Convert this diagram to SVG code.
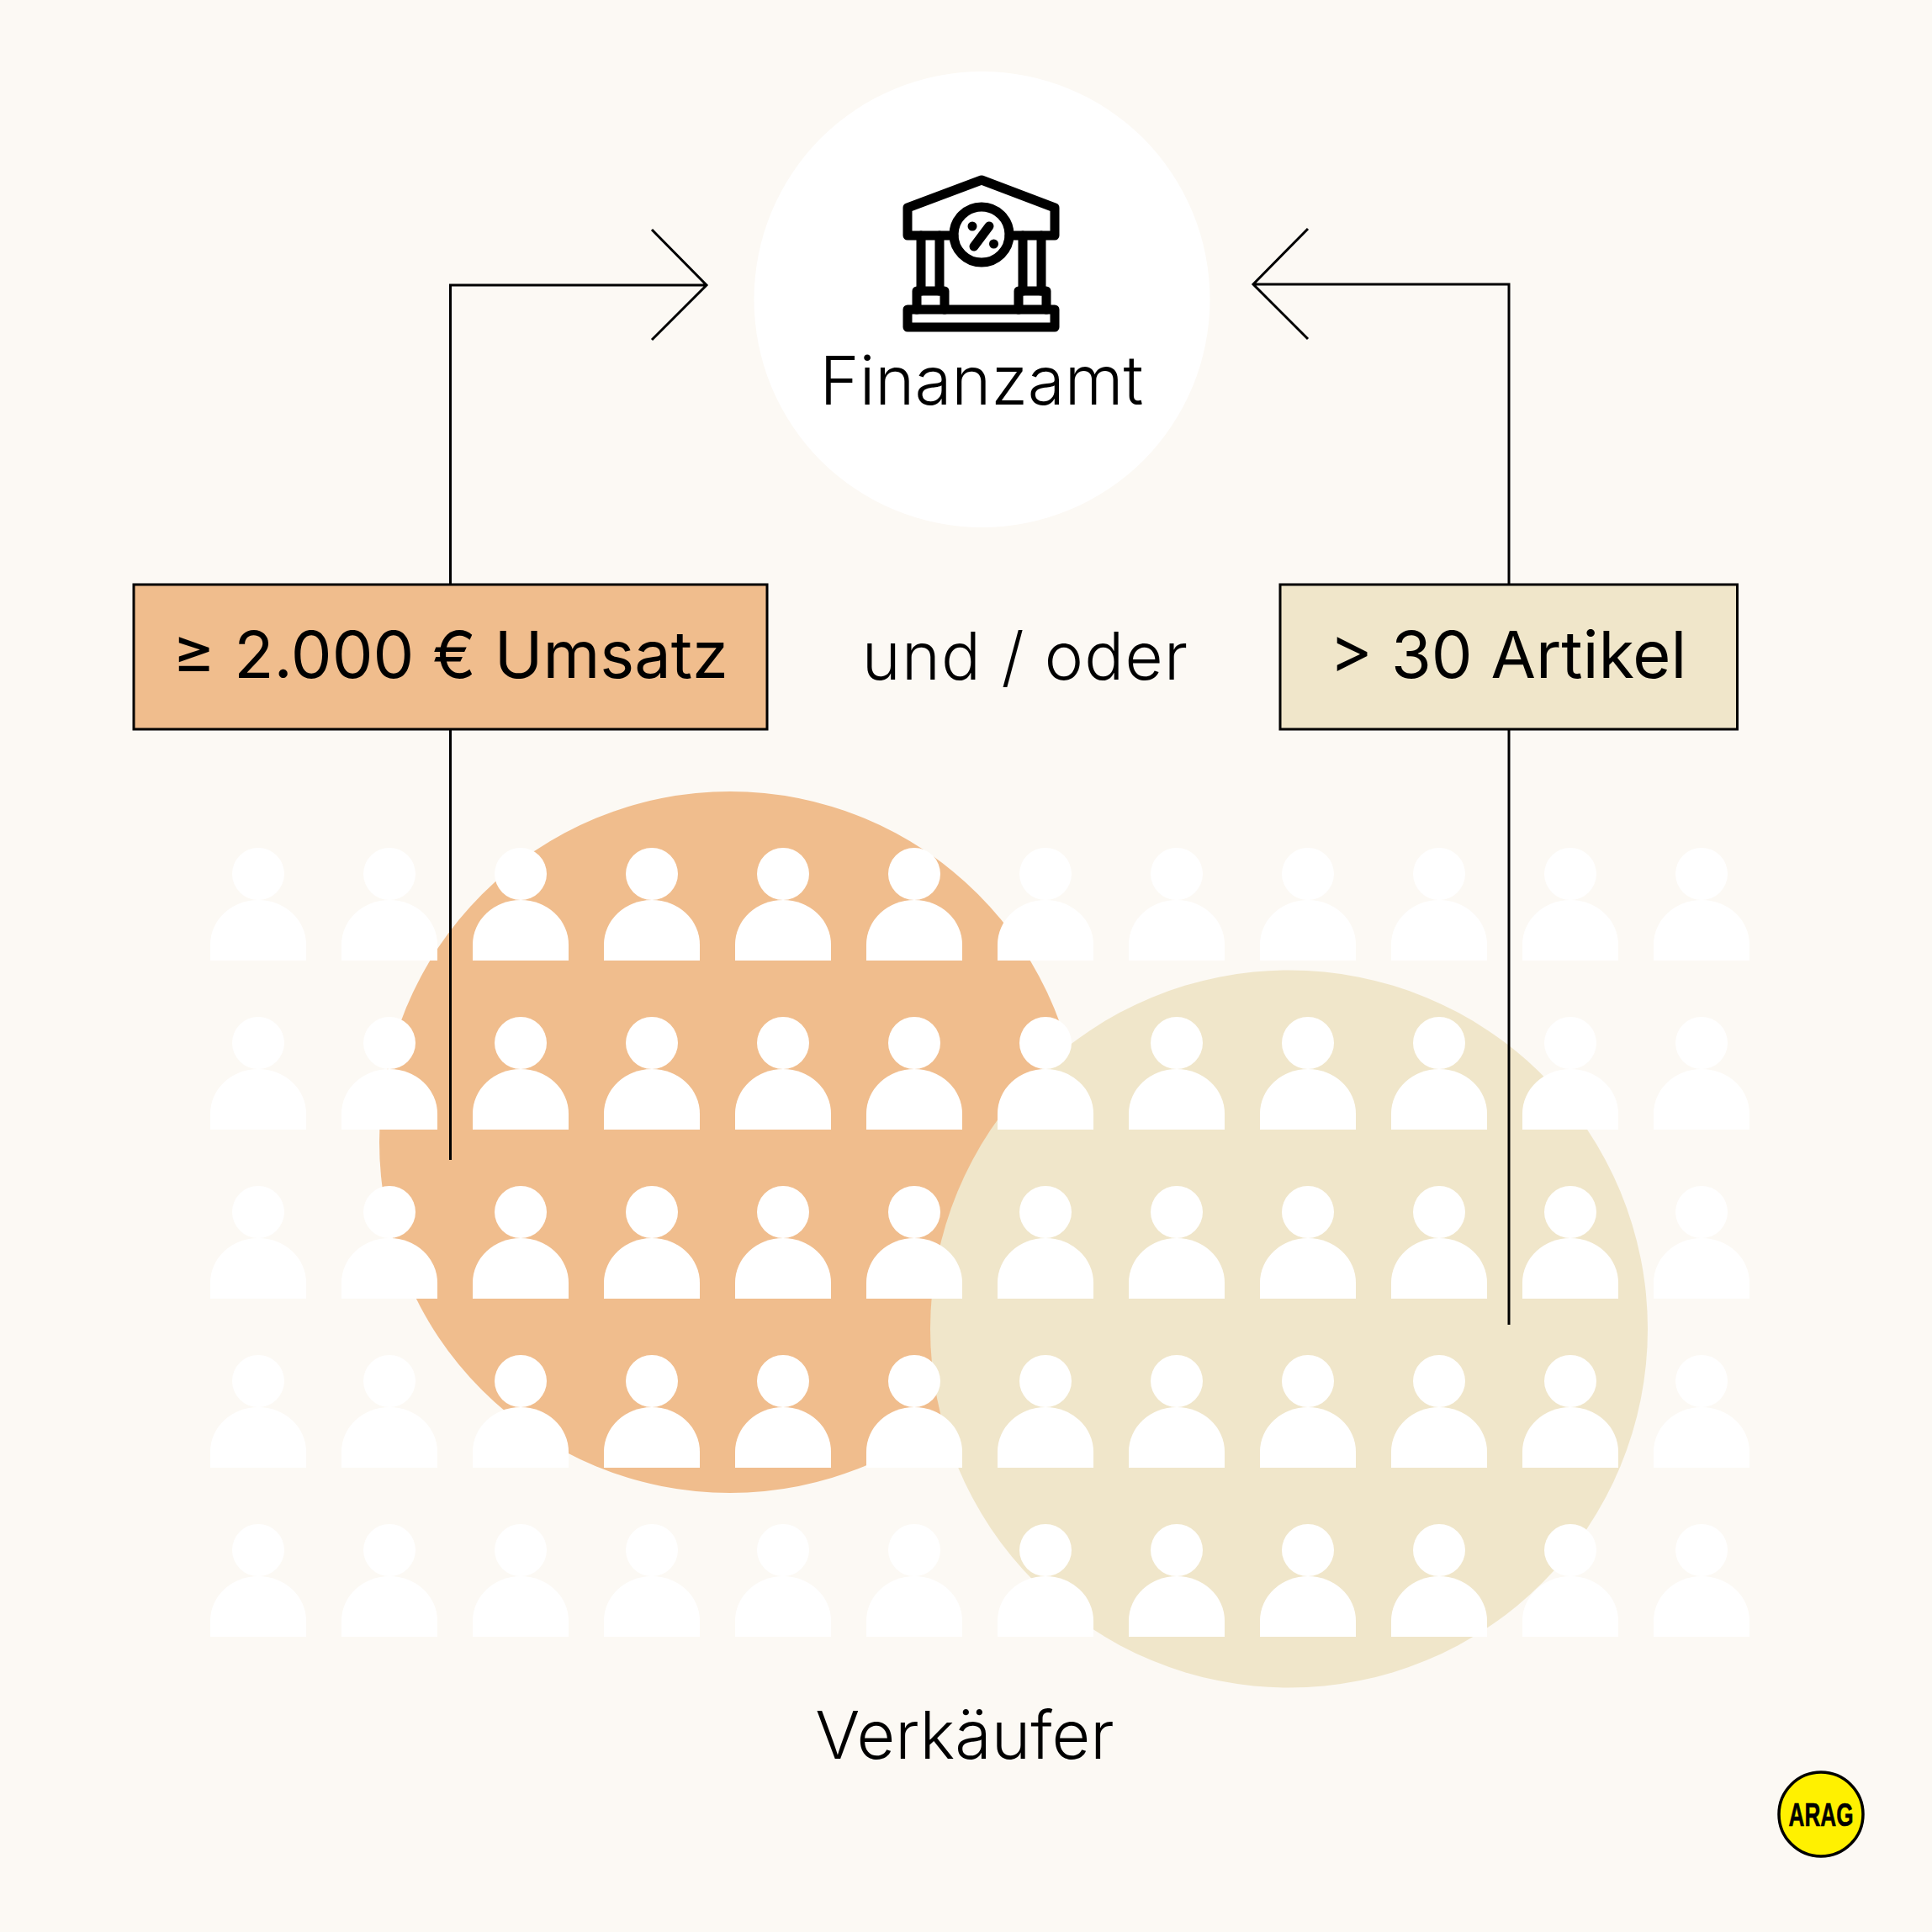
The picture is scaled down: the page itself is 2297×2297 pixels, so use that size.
<svg xmlns="http://www.w3.org/2000/svg" xmlns:xlink="http://www.w3.org/1999/xlink" width="2297" height="2297" viewBox="0 0 2297 2297">
<style>
.t{font-family:"Inter","Liberation Sans",sans-serif;fill:#000}
.ln{fill:none;stroke:#000;stroke-width:3}
.ic{fill:none;stroke:#000;stroke-width:11;stroke-linejoin:round;stroke-linecap:round}
.p{fill:#fff}
</style>
<defs>
<g id="person"><circle cx="0" cy="0" r="31"/><path d="M-57 103V84A57 53 0 0 1 57 84V103Z"/></g>
</defs>
<rect id="bg" width="2297" height="2297" fill="#fcf9f4"/>
<circle id="circle-umsatz" cx="868" cy="1358" r="417" fill="#f0bd8d"/>
<circle id="circle-artikel" cx="1532.500" cy="1580" r="426.500" fill="#f0e6ca"/>
<g id="people" class="p">
<use xlink:href="#person" x="307" y="1039"/><use xlink:href="#person" x="463" y="1039"/><use xlink:href="#person" x="619" y="1039"/><use xlink:href="#person" x="775" y="1039"/><use xlink:href="#person" x="931" y="1039"/><use xlink:href="#person" x="1087" y="1039"/><use xlink:href="#person" x="1243" y="1039"/><use xlink:href="#person" x="1399" y="1039"/><use xlink:href="#person" x="1555" y="1039"/><use xlink:href="#person" x="1711" y="1039"/><use xlink:href="#person" x="1867" y="1039"/><use xlink:href="#person" x="2023" y="1039"/>
<use xlink:href="#person" x="307" y="1240"/><use xlink:href="#person" x="463" y="1240"/><use xlink:href="#person" x="619" y="1240"/><use xlink:href="#person" x="775" y="1240"/><use xlink:href="#person" x="931" y="1240"/><use xlink:href="#person" x="1087" y="1240"/><use xlink:href="#person" x="1243" y="1240"/><use xlink:href="#person" x="1399" y="1240"/><use xlink:href="#person" x="1555" y="1240"/><use xlink:href="#person" x="1711" y="1240"/><use xlink:href="#person" x="1867" y="1240"/><use xlink:href="#person" x="2023" y="1240"/>
<use xlink:href="#person" x="307" y="1441"/><use xlink:href="#person" x="463" y="1441"/><use xlink:href="#person" x="619" y="1441"/><use xlink:href="#person" x="775" y="1441"/><use xlink:href="#person" x="931" y="1441"/><use xlink:href="#person" x="1087" y="1441"/><use xlink:href="#person" x="1243" y="1441"/><use xlink:href="#person" x="1399" y="1441"/><use xlink:href="#person" x="1555" y="1441"/><use xlink:href="#person" x="1711" y="1441"/><use xlink:href="#person" x="1867" y="1441"/><use xlink:href="#person" x="2023" y="1441"/>
<use xlink:href="#person" x="307" y="1642"/><use xlink:href="#person" x="463" y="1642"/><use xlink:href="#person" x="619" y="1642"/><use xlink:href="#person" x="775" y="1642"/><use xlink:href="#person" x="931" y="1642"/><use xlink:href="#person" x="1087" y="1642"/><use xlink:href="#person" x="1243" y="1642"/><use xlink:href="#person" x="1399" y="1642"/><use xlink:href="#person" x="1555" y="1642"/><use xlink:href="#person" x="1711" y="1642"/><use xlink:href="#person" x="1867" y="1642"/><use xlink:href="#person" x="2023" y="1642"/>
<use xlink:href="#person" x="307" y="1843"/><use xlink:href="#person" x="463" y="1843"/><use xlink:href="#person" x="619" y="1843"/><use xlink:href="#person" x="775" y="1843"/><use xlink:href="#person" x="931" y="1843"/><use xlink:href="#person" x="1087" y="1843"/><use xlink:href="#person" x="1243" y="1843"/><use xlink:href="#person" x="1399" y="1843"/><use xlink:href="#person" x="1555" y="1843"/><use xlink:href="#person" x="1711" y="1843"/><use xlink:href="#person" x="1867" y="1843"/><use xlink:href="#person" x="2023" y="1843"/>
</g>
<g id="connectors" class="ln">
<path d="M535.500 694V339H840M775 273L840 339L775 404"/>
<path d="M535.500 868V1379"/>
<path d="M1794 694V338H1490M1555 272L1490 338L1555 403"/>
<path d="M1794 868V1575"/>
</g>
<g id="finanzamt">
<circle cx="1167.500" cy="356" r="271" fill="#fff"/>
<g class="ic">
<path d="M1134 280H1079V247L1167 214L1254 247V280H1200"/>
<circle cx="1167" cy="279" r="33"/>
<path d="M1095 280V346M1117 280V346M1216 280V346M1238 280V346"/>
<path d="M1090 368V346H1123V368M1211 368V346H1244V368"/>
<rect x="1079" y="368" width="175" height="21"/>
<path d="M1158 293L1176 269"/>
</g>
<circle cx="1156" cy="269" r="5.500"/><circle cx="1181.500" cy="290" r="5.500"/>
<text class="t" x="1167" y="481" text-anchor="middle" font-size="80" font-weight="300">Finanzamt</text>
</g>
<g id="box-umsatz">
<rect x="159" y="695" width="753" height="172" fill="#f0bd8d" stroke="#000" stroke-width="3"/>
<text class="t" x="535.500" y="806" text-anchor="middle" font-size="77.500" font-weight="400">≥ 2.000 € Umsatz</text>
</g>
<text id="und-oder" class="t" x="1219" y="808" text-anchor="middle" font-size="78" font-weight="300" letter-spacing="1.200">und / oder</text>
<g id="box-artikel">
<rect x="1522" y="695" width="543.500" height="172" fill="#f0e6ca" stroke="#000" stroke-width="3"/>
<text class="t" x="1793" y="806" text-anchor="middle" font-size="77.500" font-weight="400">&gt; 30 Artikel</text>
</g>
<text id="verkaeufer" class="t" x="1147" y="2091" text-anchor="middle" font-size="79" font-weight="300">Verkäufer</text>
<g id="logo">
<circle cx="2165" cy="2157" r="50" fill="#fff100" stroke="#000" stroke-width="3.500"/>
<text x="2165" y="2171" text-anchor="middle" font-family="Liberation Sans Narrow,Liberation Sans,sans-serif" font-weight="700" font-size="39" textLength="77" lengthAdjust="spacingAndGlyphs" stroke="#000" stroke-width="0.600">ARAG</text>
</g>
</svg>
